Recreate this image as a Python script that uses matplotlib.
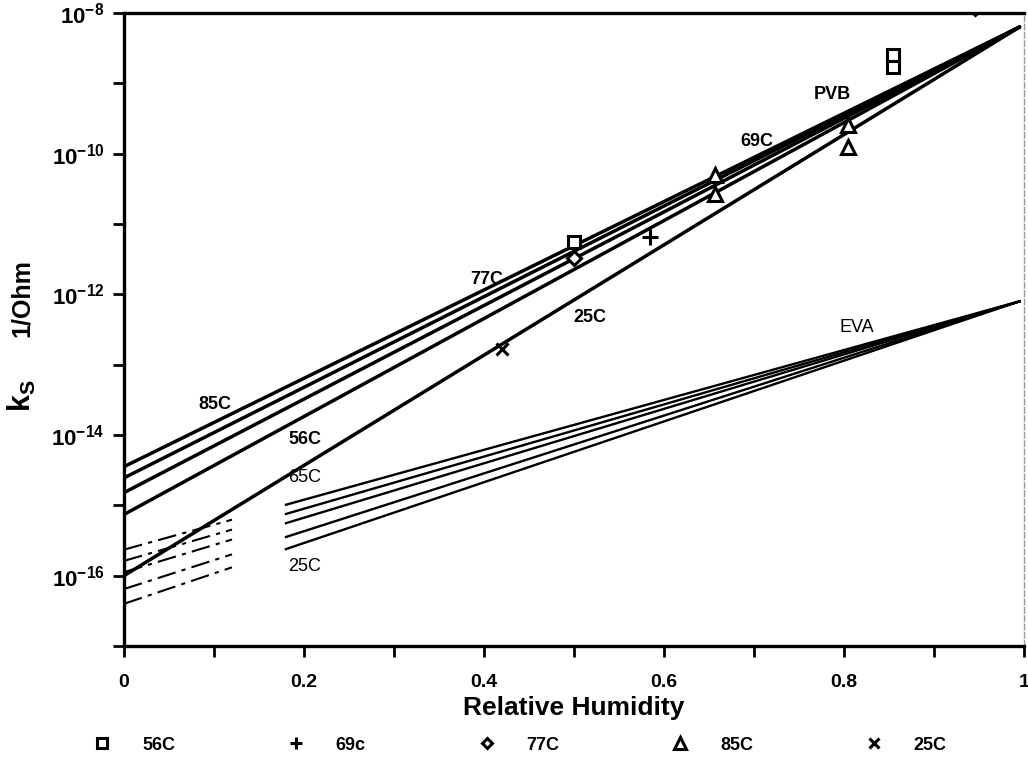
import numpy as np
import matplotlib
matplotlib.use("Agg")
import matplotlib.pyplot as plt

plt.rcParams['font.family'] = ['Liberation Sans', 'DejaVu Sans']
plt.rcParams['mathtext.fontset'] = 'custom'
plt.rcParams['mathtext.bf'] = 'Liberation Sans:bold'
plt.rcParams['mathtext.rm'] = 'Liberation Sans'

# fitted lines, log10(ks) at RH=0 and at the common end point
rh_end = 0.995
pvb_start = [-14.45, -14.61, -14.82, -15.13, -16.0]
pvb_end = -8.2
eva_start = [-15.63, -15.79, -15.95, -16.19, -16.40]
eva_end = -12.1
eva_dash_to = 0.12
eva_solid_from = 0.18

# measured points
sq56_rh = [0.5, 0.854, 0.854]
sq56_ks = [10**-11.25, 10**-8.60, 10**-8.77]
plus69_rh = [0.584]
plus69_ks = [10**-11.18]
dia77_rh = [0.5, 0.946]
dia77_ks = [10**-11.48, 10**-7.93]
tri85_rh = [0.657, 0.657, 0.804, 0.804]
tri85_ks = [10**-10.30, 10**-10.58, 10**-9.59, 10**-9.90]
x25_rh = [0.42]
x25_ks = [10**-12.78]

# curve labels: text, rh, log10(ks), bold
curve_labels = [
    ("85C", 0.101, -13.56, True),
    ("56C", 0.201, -14.06, True),
    ("65C", 0.201, -14.60, False),
    ("25C", 0.201, -15.87, False),
    ("77C", 0.403, -11.79, True),
    ("25C", 0.518, -12.33, True),
    ("69C", 0.703, -9.83, True),
    ("PVB", 0.787, -9.16, True),
    ("EVA", 0.814, -12.47, False),
]

fig = plt.figure(figsize=(10.28, 7.62), dpi=100)
ax = fig.add_axes([124/1028, 1 - 646/762, 900/1028, (646 - 13)/762])
ax.set_yscale('log')
ax.set_xlim(0, 1.0)
ax.set_ylim(1e-17, 1e-8)


def logline(a, b, x0, x1):
    # straight line in log space from (0, a) to (rh_end, b)
    s = (b - a) / rh_end
    return [x0, x1], [10**(a + s*x0), 10**(a + s*x1)]


for a in pvb_start:
    xs, ys = logline(a, pvb_end, 0, rh_end)
    ax.plot(xs, ys, color='black', lw=2.5, solid_capstyle='round')

for a in eva_start:
    xs, ys = logline(a, eva_end, eva_solid_from, rh_end)
    ax.plot(xs, ys, color='black', lw=1.7)
    xs, ys = logline(a, eva_end, 0, eva_dash_to)
    ax.plot(xs, ys, color='black', lw=1.5, dashes=(9, 3, 2, 3))

mk = dict(linestyle='none', color='black', mfc='white', mew=2.2)
h1, = ax.plot(sq56_rh, sq56_ks, marker='s', ms=9, label='56C', **mk)
h2, = ax.plot(plus69_rh, plus69_ks, marker='+', ms=11, label='69c', **mk)
h3, = ax.plot(dia77_rh, dia77_ks, marker='D', ms=7, label='77C', **mk)
h4, = ax.plot(tri85_rh, tri85_ks, marker='^', ms=10, label='85C', **mk)
h5, = ax.plot(x25_rh, x25_ks, marker='x', ms=9, label='25C', **mk)

for txt, x, ly, bold in curve_labels:
    ax.text(x, 10**ly, txt, ha='center', va='center', fontsize=13,
            fontweight='bold' if bold else 'normal')

# axes styling
for side in ['left', 'bottom', 'top']:
    ax.spines[side].set_linewidth(2.4)
ax.spines['right'].set_linewidth(1.0)
ax.spines['right'].set_color('0.6')
ax.spines['right'].set_linestyle((0, (4, 2)))

yt = [10.0**e for e in range(-17, -7)]
ax.set_yticks(yt)
ax.set_yticklabels(['' if e % 2 else r'$\mathbf{10^{%d}}$' % e for e in range(-17, -7)])
ax.yaxis.set_minor_locator(matplotlib.ticker.NullLocator())
xt = np.round(np.arange(0, 1.01, 0.1), 1)
ax.set_xticks(xt)
ax.set_xticklabels(['0', '', '0.2', '', '0.4', '', '0.6', '', '0.8', '', '1'])
ax.tick_params(axis='both', direction='out', length=8, width=2)
ax.tick_params(axis='y', labelsize=16, pad=6)
ax.tick_params(axis='x', labelsize=14, pad=12)
for lab in ax.get_xticklabels():
    lab.set_fontweight('bold')

ax.set_xlabel('Relative Humidity', fontsize=19, fontweight='bold', labelpad=4)
fig.text(22/1028, 1 - 298/762, '1/Ohm', rotation=90, ha='center', va='center',
         fontsize=18, fontweight='bold')
fig.text(22/1028, 1 - 396/762, r'$\mathbf{k_S}$', rotation=90, ha='center', va='center',
         fontsize=22)

fig.legend(handles=[h1, h2, h3, h4, h5], loc='center', ncol=5,
           bbox_to_anchor=(520/1028, 1 - 745/762), frameon=False,
           prop={'weight': 'bold', 'size': 13},
           handlelength=1.0, handletextpad=1.7, columnspacing=6.2, markerscale=0.8)

fig.savefig('out.png', dpi=100)
